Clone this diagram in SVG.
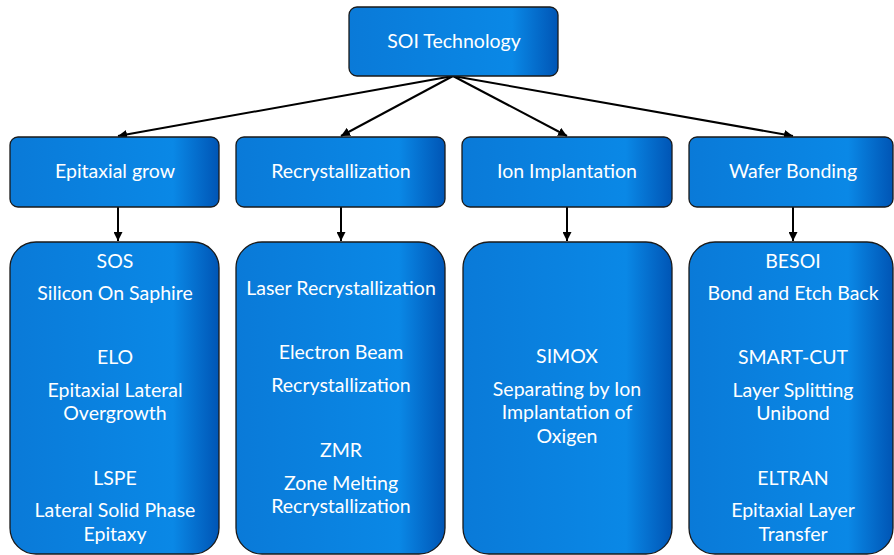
<svg xmlns="http://www.w3.org/2000/svg" width="894" height="555" viewBox="0 0 894 555">
  <defs>
    <linearGradient id="blueFill" x1="0" y1="0" x2="1" y2="0">
      <stop offset="0" stop-color="#0a7ad8"/>
      <stop offset="0.78" stop-color="#0a88e6"/>
      <stop offset="1" stop-color="#0055b5"/>
    </linearGradient>
    <marker id="arrow" viewBox="0 0 10 10" refX="10" refY="5" markerWidth="9" markerHeight="9" markerUnits="userSpaceOnUse" orient="auto">
      <path d="M0,0 L10,5 L0,10 z" fill="#000"/>
    </marker>
    <style>
      .box { fill: url(#blueFill); stroke: #1a1a1a; stroke-width: 1.3; }
      .lbl { font-family: Lato, "Open Sans", sans-serif; font-size: 19.5px; fill: #ffffff; text-anchor: middle; }
      .conn { stroke: #000; stroke-width: 2; fill: none; marker-end: url(#arrow); }
    </style>
  </defs>
  <rect width="894" height="555" fill="#ffffff"/>

  <g id="connectors">
    <line class="conn" x1="453" y1="76" x2="118" y2="136"/>
    <line class="conn" x1="453" y1="76" x2="341" y2="136"/>
    <line class="conn" x1="453" y1="76" x2="567" y2="136"/>
    <line class="conn" x1="453" y1="76" x2="793" y2="136"/>
    <line class="conn" x1="118" y1="207" x2="118" y2="241"/>
    <line class="conn" x1="341" y1="207" x2="341" y2="241"/>
    <line class="conn" x1="567" y1="207" x2="567" y2="241"/>
    <line class="conn" x1="793" y1="207" x2="793" y2="241"/>
  </g>

  <g id="soi-technology">
    <rect class="box" x="349" y="7" width="209" height="69" rx="8"/>
    <text class="lbl" x="454" y="48">SOI Technology</text>
  </g>

  <g id="epitaxial-grow">
    <rect class="box" x="10" y="137" width="209" height="70" rx="8"/>
    <text class="lbl" x="115" y="178">Epitaxial grow</text>
  </g>
  <g id="recrystallization">
    <rect class="box" x="236" y="137" width="209" height="70" rx="8"/>
    <text class="lbl" x="341" y="178">Recrystallization</text>
  </g>
  <g id="ion-implantation">
    <rect class="box" x="462" y="137" width="210" height="70" rx="8"/>
    <text class="lbl" x="567" y="178">Ion Implantation</text>
  </g>
  <g id="wafer-bonding">
    <rect class="box" x="689" y="137" width="204" height="70" rx="8"/>
    <text class="lbl" x="793" y="178">Wafer Bonding</text>
  </g>

  <g id="epitaxial-methods">
    <rect class="box" x="10" y="242" width="209" height="312" rx="26"/>
    <text class="lbl" x="115" y="268">SOS</text>
    <text class="lbl" x="115" y="300">Silicon On Saphire</text>
    <text class="lbl" x="115" y="364">ELO</text>
    <text class="lbl" x="115" y="397">Epitaxial Lateral</text>
    <text class="lbl" x="115" y="420">Overgrowth</text>
    <text class="lbl" x="115" y="485">LSPE</text>
    <text class="lbl" x="115" y="517">Lateral Solid Phase</text>
    <text class="lbl" x="115" y="541">Epitaxy</text>
  </g>

  <g id="recrystallization-methods">
    <rect class="box" x="236" y="242" width="209" height="312" rx="26"/>
    <text class="lbl" x="341" y="295">Laser Recrystallization</text>
    <text class="lbl" x="341" y="359">Electron Beam</text>
    <text class="lbl" x="341" y="392">Recrystallization</text>
    <text class="lbl" x="341" y="457">ZMR</text>
    <text class="lbl" x="341" y="490">Zone Melting</text>
    <text class="lbl" x="341" y="513">Recrystallization</text>
  </g>

  <g id="implantation-methods">
    <rect class="box" x="463" y="242" width="209" height="312" rx="26"/>
    <text class="lbl" x="567" y="363">SIMOX</text>
    <text class="lbl" x="567" y="396">Separating by Ion</text>
    <text class="lbl" x="567" y="419">Implantation of</text>
    <text class="lbl" x="567" y="443">Oxigen</text>
  </g>

  <g id="bonding-methods">
    <rect class="box" x="689" y="242" width="204" height="312" rx="26"/>
    <text class="lbl" x="793" y="268">BESOI</text>
    <text class="lbl" x="793" y="300">Bond and Etch Back</text>
    <text class="lbl" x="793" y="364">SMART-CUT</text>
    <text class="lbl" x="793" y="397">Layer Splitting</text>
    <text class="lbl" x="793" y="420">Unibond</text>
    <text class="lbl" x="793" y="485">ELTRAN</text>
    <text class="lbl" x="793" y="517">Epitaxial Layer</text>
    <text class="lbl" x="793" y="541">Transfer</text>
  </g>
</svg>
